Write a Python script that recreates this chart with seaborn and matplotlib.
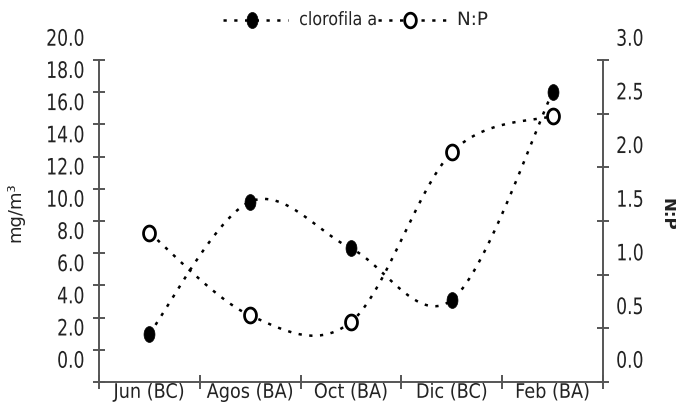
import numpy as np
import pandas as pd
import matplotlib
matplotlib.use("Agg")
import matplotlib.pyplot as plt
import seaborn as sns
from matplotlib.transforms import ScaledTranslation, Affine2D
from matplotlib.path import Path
from matplotlib.lines import Line2D
from matplotlib.patheffects import AbstractPathEffect

# ---------------- data ----------------
categories = ["Jun (BC)", "Agos (BA)", "Oct (BA)", "Dic (BC)", "Feb (BA)"]
clorofila = [3.0, 11.2, 8.3, 5.1, 18.0]      # mg/m3 (left axis)
np_ratio = [1.39, 0.62, 0.56, 2.14, 2.48]    # N:P (right axis)
left_ticks = [0, 2, 4, 6, 8, 10, 12, 14, 16, 18, 20]
right_ticks = [0.0, 0.5, 1.0, 1.5, 2.0, 2.5, 3.0]
series_names = ["clorofila a", "N:P"]

# ---------------- style ----------------
sns.set_theme(style="white")
plt.rcParams["font.family"] = ["DejaVu Sans"]

AX_COL = "#555555"
TXT_COL = "#222222"
FS = 16.3
FSX = 14.4


class Condense(AbstractPathEffect):
    """Horizontally condense a text path (narrow font look)."""

    def __init__(self, sx, align="left"):
        super().__init__()
        self.sx = sx
        self.align = align

    def draw_path(self, renderer, gc, tpath, affine, rgbFace=None):
        ext = tpath.get_extents()
        px = {"left": ext.x0, "center": 0.5 * (ext.x0 + ext.x1), "right": ext.x1}[self.align]
        t = Affine2D().translate(-px, 0).scale(self.sx, 1).translate(px, 0) + affine
        renderer.draw_path(gc, tpath, t, rgbFace)


def smooth(vals, n=50):
    """Excel-like smoothed line (cubic Bezier through the points)."""
    P = np.column_stack([np.arange(len(vals)), np.asarray(vals, float)])
    out = []
    for i in range(len(P) - 1):
        p0 = P[i - 1] if i > 0 else P[i]
        p1, p2 = P[i], P[i + 1]
        p3 = P[i + 2] if i + 2 < len(P) else P[i + 1]
        c1 = p1 + (p2 - p0) / 6.0
        c2 = p2 - (p3 - p1) / 6.0
        t = np.linspace(0, 1, n)[:, None]
        seg = (1 - t) ** 3 * p1 + 3 * (1 - t) ** 2 * t * c1 + 3 * (1 - t) * t ** 2 * c2 + t ** 3 * p2
        out.append(seg if i == 0 else seg[1:])
    out = np.vstack(out)
    return pd.DataFrame({"x": out[:, 0], "y": out[:, 1]})


th = np.linspace(0, 2 * np.pi, 64)
ell_fill = Path(np.column_stack([0.69 * np.cos(th), np.sin(th)]), closed=True)
ell_open = Path(np.column_stack([0.80 * np.cos(th), np.sin(th)]), closed=True)

DOT = (0, (1.3, 3.0))
LW = 1.8

fig = plt.figure(figsize=(6.76, 4.04), dpi=100)
ax = fig.add_axes([99 / 676, 1 - 382 / 404, (603 - 99) / 676, (382 - 60) / 404])
ax2 = ax.twinx()

x = np.arange(len(categories))

# clorofila a (left)
s1 = smooth(clorofila)
sns.lineplot(data=s1, x="x", y="y", ax=ax, color="black", lw=LW, linestyle=DOT,
             sort=False, estimator=None)
sns.scatterplot(x=x, y=clorofila, ax=ax, marker=ell_fill, s=130, color="black",
                edgecolor="black", linewidth=0.5, zorder=5)

# N:P (right)
s2 = smooth(np_ratio)
sns.lineplot(data=s2, x="x", y="y", ax=ax2, color="black", lw=LW, linestyle=DOT,
             sort=False, estimator=None)
sns.scatterplot(x=x, y=np_ratio, ax=ax2, marker=ell_open, s=115, facecolor="white",
                edgecolor="black", linewidth=2.0, zorder=5)

# ---------------- axes ----------------
ax.set_xlim(-0.5, len(categories) - 0.5)
ax.set_ylim(0, 20)
ax2.set_ylim(0, 3)

for a in (ax, ax2):
    for sp in a.spines.values():
        sp.set_visible(False)
    a.set_xlabel("")
    a.set_ylabel("")
    a.grid(False)

ax.spines["left"].set_visible(True)
ax.spines["bottom"].set_visible(True)
ax2.spines["right"].set_visible(True)
for sp in (ax.spines["left"], ax.spines["bottom"], ax2.spines["right"]):
    sp.set_color(AX_COL)
    sp.set_linewidth(1.4)

ax.set_xticks(x)
ax.set_xticklabels(categories)
ax.set_xticks(np.arange(-0.5, len(categories)), minor=True)
ax.tick_params(axis="x", which="major", length=0, pad=0.6, labelsize=FSX, labelcolor=TXT_COL)
ax.tick_params(axis="x", which="minor", direction="inout", length=10.5, width=1.4,
               color=AX_COL, bottom=True)

ax.set_yticks(left_ticks)
ax.set_yticklabels([f"{v:.1f}" for v in left_ticks])
ax.tick_params(axis="y", direction="inout", length=8, width=1.4, color=AX_COL,
               pad=6.2, labelsize=FS, labelcolor=TXT_COL, left=True)
ax.yaxis.set_minor_locator(matplotlib.ticker.NullLocator())

ax2.set_yticks(right_ticks)
ax2.set_yticklabels([f"{v:.1f}" for v in right_ticks])
ax2.tick_params(axis="y", direction="inout", length=8, width=1.4, color=AX_COL,
                pad=5.2, labelsize=FS, labelcolor=TXT_COL, right=True)

shift = ScaledTranslation(0, 0.233, fig.dpi_scale_trans)
for lab in ax.get_yticklabels():
    lab.set_transform(lab.get_transform() + shift)
    lab.set_clip_on(False)
    lab.set_path_effects([Condense(0.76, "right")])
for lab in ax2.get_yticklabels():
    lab.set_transform(lab.get_transform() + shift)
    lab.set_clip_on(False)
    lab.set_path_effects([Condense(0.76, "left")])
for lab in ax.get_xticklabels():
    lab.set_path_effects([Condense(0.78 * FS / FSX, "center")])

# axis titles
fig.text(15 / 676, 1 - 212 / 404, "mg/m³", rotation=90, ha="center", va="center",
         fontsize=13, color=TXT_COL)
fig.text(667 / 676, 1 - 214 / 404, "N:P", rotation=270, ha="center", va="center",
         fontsize=12, fontweight="bold", color=TXT_COL)

# legend (drawn at the top, like the original)
LY = 1 - 20 / 404
leg_items = [
    dict(x0=223, x1=288, xm=252, tx=299, marker=ell_fill, fc="black", ms=11.5, mew=0.5, sx=0.87),
    dict(x0=378, x1=447, xm=410, tx=457, marker=ell_open, fc="white", ms=10.5, mew=2.0, sx=1.0),
]
for name, it in zip(series_names, leg_items):
    fig.add_artist(Line2D([it["x0"] / 676, it["x1"] / 676], [LY, LY], transform=fig.transFigure,
                          color="black", lw=LW, linestyle=DOT))
    fig.add_artist(Line2D([it["xm"] / 676], [LY], transform=fig.transFigure, marker=it["marker"],
                          markersize=it["ms"], markerfacecolor=it["fc"], markeredgecolor="black",
                          markeredgewidth=it["mew"], linestyle="none"))
    t = fig.text(it["tx"] / 676, LY, name, ha="left", va="center", fontsize=13.2, color=TXT_COL)
    t.set_path_effects([Condense(it["sx"], "left")])

fig.savefig("out.png", dpi=100)
